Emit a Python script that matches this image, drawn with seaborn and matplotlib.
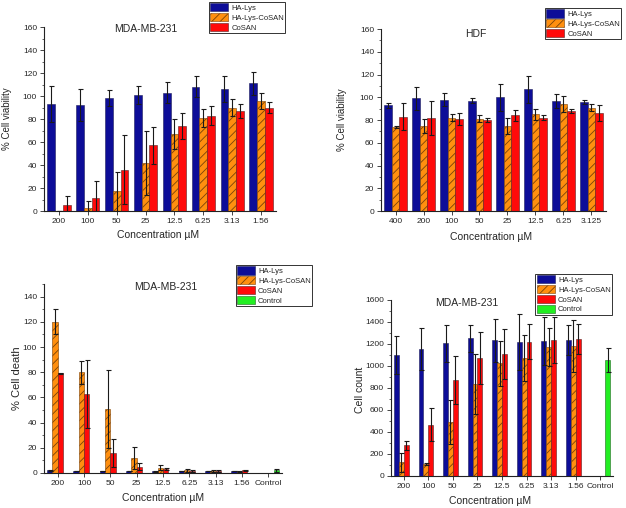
import numpy as np
import pandas as pd
import matplotlib
matplotlib.use("Agg")
import matplotlib.pyplot as plt
from matplotlib.patches import Patch
from matplotlib.ticker import MultipleLocator
import seaborn as sns

# ---------------- data ----------------
series = ["HA-Lys", "HA-Lys-CoSAN", "CoSAN", "Control"]

conc1 = ["200", "100", "50", "25", "12.5", "6.25", "3.13", "1.56"]
via_ha = [93, 92, 98, 101, 103, 108, 106, 111]
via_ha_err = [16, 14, 7, 8, 9, 9, 11, 10]
via_hc = [0, 3, 17, 42, 67, 81, 90, 96]
via_hc_err = [0, 6, 17, 28, 13, 8, 7, 7]
via_co = [5, 11, 36, 57, 74, 83, 87, 90]
via_co_err = [8, 15, 30, 16, 11, 8, 6, 5]

conc2 = ["400", "200", "100", "50", "25", "12.5", "6.25", "3.125"]
hdf_ha = [93, 99, 98, 97, 100, 107, 97, 96]
hdf_ha_err = [2, 10, 6, 2, 12, 12, 6, 2]
hdf_hc = [74, 75, 82, 81, 75, 85, 94, 91]
hdf_hc_err = [1, 6, 3, 3, 7, 5, 7, 3]
hdf_co = [83, 82, 81, 80, 84, 82, 88, 86]
hdf_co_err = [12, 15, 5, 2, 5, 2, 2, 7]

conc3 = ["200", "100", "50", "25", "12.5", "6.25", "3.13", "1.56", "Control"]
death_ha = [2, 1.5, 1.5, 1.5, 1.2, 1.5, 1.5, 1.5]
death_ha_err = [0.3, 0.3, 0.3, 0.3, 0.3, 0.3, 0.3, 0.3]
death_hc = [120, 80, 51, 12, 4, 2, 1.5, 1]
death_hc_err = [10, 9, 31, 9, 2, 1.5, 0.5, 0.3]
death_co = [79, 63, 16, 5, 3, 1.5, 1.5, 2]
death_co_err = [0.5, 27, 11, 3, 1, 0.5, 0.5, 0.3]
death_ctrl = [2]
death_ctrl_err = [1]

count_ha = [1100, 1152, 1206, 1252, 1233, 1215, 1227, 1233]
count_ha_err = [175, 190, 170, 125, 195, 255, 220, 137]
count_hc = [124, 109, 488, 836, 1024, 1070, 1173, 1182]
count_hc_err = [85, 8, 200, 270, 205, 210, 175, 240]
count_co = [279, 464, 873, 1073, 1109, 1221, 1239, 1245]
count_co_err = [42, 150, 220, 240, 230, 160, 210, 137]
count_ctrl = [1055]
count_ctrl_err = [112]

# ---------------- style ----------------
sns.set_style("ticks")
plt.rcParams["font.family"] = ["Liberation Sans", "DejaVu Sans"]
plt.rcParams["hatch.linewidth"] = 0.6

colors = {"HA-Lys": "#0d0d98", "HA-Lys-CoSAN": "#ff8f0f",
          "CoSAN": "#ff0a0a", "Control": "#22ee22"}
edges = {"HA-Lys": "#20205a", "HA-Lys-CoSAN": "#7a4208",
         "CoSAN": "#552222", "Control": "#226622"}
HATCH = "////"


def build(cats, vals_by_series):
    rows = []
    for s, (vals, errs, cs) in vals_by_series.items():
        for c, v, e in zip(cs, vals, errs):
            rows.append({"conc": c, "series": s, "val": v, "err": e})
    return pd.DataFrame(rows)


fig = plt.figure(figsize=(6.26, 5.08), dpi=100)


def panel(rect, df, cats, hue_order, ylim, ymaj, ymin, title, tpos, ylabel,
          ylab_xy, xlab_xy, leg_anchor, ylab_size=7):
    ax = fig.add_axes(rect)
    sns.barplot(data=df, x="conc", y="val", hue="series", order=cats,
                hue_order=hue_order, palette=colors, errorbar=None,
                width=0.8, ax=ax, legend=False, saturation=1)
    errmap = {(r.conc, r.series): r.err for r in df.itertuples()}
    for s, cont in zip([h for h in hue_order if h in df.series.unique()],
                       ax.containers):
        xs, ys, es = [], [], []
        for bar in cont:
            h = bar.get_height()
            if np.isnan(h):
                continue
            bar.set_edgecolor(edges[s])
            bar.set_linewidth(0.4)
            if s == "HA-Lys-CoSAN":
                bar.set_hatch(HATCH)
            xc = bar.get_x() + bar.get_width() / 2
            cat = cats[int(round(xc))]
            if (cat, s) in errmap:
                xs.append(xc)
                ys.append(h)
                es.append(errmap[(cat, s)])
        ax.errorbar(xs, ys, yerr=es, fmt="none", ecolor="#1a1a1a",
                    elinewidth=0.8, capsize=1.8, capthick=0.8, zorder=5)
    ax.set_ylim(*ylim)
    ax.set_xlim(-0.52, len(cats) - 0.48)
    ax.yaxis.set_major_locator(MultipleLocator(ymaj))
    ax.yaxis.set_minor_locator(MultipleLocator(ymin))
    ax.tick_params(axis="both", which="major", direction="out", length=3,
                   width=0.6, labelsize=6, pad=2)
    ax.tick_params(axis="y", which="minor", direction="out", length=1.6,
                   width=0.5)
    for sp in ["left", "bottom"]:
        ax.spines[sp].set_linewidth(0.8)
        ax.spines[sp].set_color("#222222")
    sns.despine(ax=ax)
    ax.set_xlabel("Concentration µM", fontsize=7.5)
    ax.set_ylabel(ylabel, fontsize=ylab_size)
    ax.yaxis.set_label_coords(*ylab_xy)
    ax.xaxis.set_label_coords(*xlab_xy)
    ax.text(tpos[0], tpos[1], title, transform=ax.transAxes, fontsize=7.5,
            ha="center", va="center")
    handles = []
    for s in hue_order:
        handles.append(Patch(facecolor=colors[s], edgecolor=edges[s],
                             linewidth=0.4,
                             hatch=HATCH if s == "HA-Lys-CoSAN" else None,
                             label=s))
    leg = ax.legend(handles=handles, loc="upper right",
                    bbox_to_anchor=leg_anchor, fontsize=5.5, frameon=True,
                    fancybox=False, edgecolor="#333333", framealpha=1,
                    borderpad=0.15, labelspacing=0.15, handlelength=2.4,
                    handleheight=1.3, handletextpad=0.4, borderaxespad=0)
    leg.get_frame().set_linewidth(0.7)
    return ax


cats3 = ["HA-Lys", "HA-Lys-CoSAN", "CoSAN"]

df1 = build(conc1, {"HA-Lys": (via_ha, via_ha_err, conc1),
                    "HA-Lys-CoSAN": (via_hc, via_hc_err, conc1),
                    "CoSAN": (via_co, via_co_err, conc1)})
panel([0.0703, 0.5846, 0.3706, 0.3622], df1, conc1, cats3, (0, 160), 20, 10,
      "MDA-MB-231", (0.44, 0.99), "% Cell viability", (-0.14, 0.5),
      (0.49, -0.103), (1.039, 1.136))

df2 = build(conc2, {"HA-Lys": (hdf_ha, hdf_ha_err, conc2),
                    "HA-Lys-CoSAN": (hdf_hc, hdf_hc_err, conc2),
                    "CoSAN": (hdf_co, hdf_co_err, conc2)})
panel([0.6086, 0.5846, 0.3594, 0.3583], df2, conc2, cats3, (0, 160), 20, 10,
      "HDF", (0.42, 0.97), "% Cell viability", (-0.151, 0.5),
      (0.49, -0.115), (1.067, 1.115))

df3 = build(conc3, {"HA-Lys": (death_ha, death_ha_err, conc3[:8]),
                    "HA-Lys-CoSAN": (death_hc, death_hc_err, conc3[:8]),
                    "CoSAN": (death_co, death_co_err, conc3[:8]),
                    "Control": (death_ctrl, death_ctrl_err, conc3[8:])})
panel([0.0703, 0.0689, 0.3802, 0.372], df3, conc3, series, (0, 150), 20, 10,
      "MDA-MB-231", (0.51, 0.985), "% Cell death", (-0.092, 0.5),
      (0.5, -0.106), (1.126, 1.10), ylab_size=8)

df4 = build(conc3, {"HA-Lys": (count_ha, count_ha_err, conc3[:8]),
                    "HA-Lys-CoSAN": (count_hc, count_hc_err, conc3[:8]),
                    "CoSAN": (count_co, count_co_err, conc3[:8]),
                    "Control": (count_ctrl, count_ctrl_err, conc3[8:])})
panel([0.6246, 0.063, 0.3546, 0.3465], df4, conc3, series, (0, 1600), 200,
      100, "MDA-MB-231", (0.34, 0.98), "Cell count", (-0.117, 0.49),
      (0.446, -0.114), (0.995, 1.148), ylab_size=7.5)

fig.savefig("out.png", dpi=100)
